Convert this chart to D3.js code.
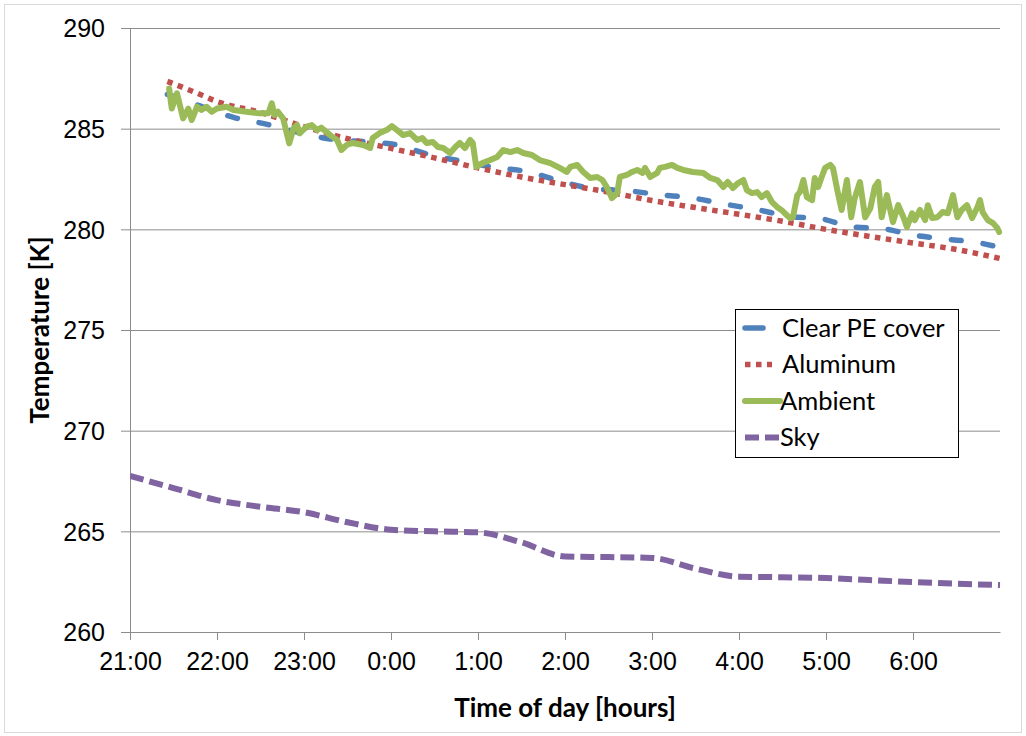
<!DOCTYPE html>
<html>
<head>
<meta charset="utf-8">
<script src="https://cdn.jsdelivr.net/npm/d3@7"></script>
<style>
  body { margin: 0; background: #fff; }
  svg { font-family: Lato, "Open Sans", sans-serif; }
  .tickText { font-size: 25px; fill: #000; }
  .titleText { font-size: 26px; font-weight: bold; fill: #000; }
  .legendText { font-size: 25.5px; fill: #000; }
</style>
</head>
<body>
<div id="chart"></div>
<script>
// time is in hours since midnight of the first day (25 = 1:00 next morning)
const seriesNames = ["Clear PE cover", "Aluminum", "Ambient", "Sky"];
const xTicks = [21, 22, 23, 24, 25, 26, 27, 28, 29, 30];
const yTicks = [260, 265, 270, 275, 280, 285, 290];

const clearPE = [
  [21.43, 286.7], [21.57, 286.5], [22.2, 285.55], [22.59, 285.2], [22.9, 284.85],
  [23.28, 284.5], [23.7, 284.35], [24.06, 284.2], [24.45, 283.7], [24.79, 283.4],
  [25.2, 283.07], [25.56, 282.87], [25.94, 282.4], [26.32, 282.02], [26.71, 281.92],
  [27.09, 281.72], [27.47, 281.55], [27.84, 281.25], [28.24, 280.95], [28.56, 280.65],
  [28.95, 280.52], [29.3, 280.12], [29.67, 280.02], [30.02, 279.7], [30.37, 279.52],
  [30.77, 279.32], [31.0, 279.1]
];

const aluminum = [
  [21.43, 287.35], [21.75, 286.8], [22.0, 286.35], [22.5, 285.8], [23.0, 285.1],
  [23.5, 284.5], [24.0, 284.02], [24.5, 283.55], [25.0, 283.05], [25.5, 282.6],
  [26.0, 282.22], [26.5, 281.85], [27.0, 281.43], [27.5, 281.08], [28.0, 280.75],
  [28.5, 280.4], [29.0, 280.0], [29.5, 279.65], [30.0, 279.32], [30.5, 279.0],
  [31.0, 278.55]
];

const ambient = [
  [21.45, 287.0], [21.48, 286.0], [21.54, 286.76], [21.61, 285.51], [21.67, 286.0],
  [21.71, 285.43], [21.77, 286.09], [21.82, 285.93], [21.88, 286.09], [21.94, 285.84],
  [22.0, 286.0], [22.11, 286.09], [22.19, 285.93], [22.34, 285.84], [22.49, 285.76],
  [22.59, 285.76], [22.63, 286.26], [22.66, 285.68], [22.7, 285.84], [22.76, 285.51],
  [22.83, 284.27], [22.88, 285.02], [22.92, 285.18], [22.95, 284.77], [23.03, 285.1],
  [23.09, 285.18], [23.15, 284.93], [23.2, 285.05], [23.3, 284.68], [23.38, 284.44],
  [23.43, 283.94], [23.49, 284.19], [23.56, 284.29], [23.68, 284.19], [23.76, 284.04],
  [23.79, 284.54], [23.87, 284.78], [23.95, 284.93], [24.01, 285.13], [24.07, 284.93],
  [24.14, 284.68], [24.22, 284.78], [24.3, 284.44], [24.36, 284.54], [24.41, 284.29],
  [24.48, 284.34], [24.54, 284.09], [24.6, 284.04], [24.68, 283.79], [24.74, 284.09],
  [24.79, 284.29], [24.85, 284.04], [24.91, 284.44], [24.94, 284.29], [24.98, 283.1],
  [25.05, 283.29], [25.14, 283.44], [25.22, 283.59], [25.29, 283.94], [25.37, 283.84],
  [25.45, 283.94], [25.52, 283.79], [25.62, 283.69], [25.71, 283.44], [25.83, 283.29],
  [25.94, 283.05], [26.02, 282.85], [26.06, 283.1], [26.14, 283.2], [26.21, 282.85],
  [26.29, 282.55], [26.37, 282.6], [26.43, 282.45], [26.48, 282.1], [26.54, 281.55],
  [26.6, 281.8], [26.63, 282.6], [26.71, 282.7], [26.77, 282.85], [26.83, 282.95],
  [26.89, 282.8], [26.92, 283.05], [26.98, 282.6], [27.06, 282.8], [27.09, 283.05],
  [27.15, 283.1], [27.23, 283.2], [27.29, 283.05], [27.36, 282.95], [27.47, 282.85],
  [27.59, 282.8], [27.67, 282.55], [27.75, 282.45], [27.82, 282.1], [27.87, 282.35],
  [27.93, 282.05], [27.99, 282.3], [28.05, 282.45], [28.09, 281.95], [28.15, 281.8],
  [28.21, 281.85], [28.26, 281.6], [28.32, 281.8], [28.38, 281.35], [28.44, 281.1],
  [28.49, 280.95], [28.55, 280.7], [28.59, 280.55], [28.62, 280.6], [28.67, 281.7],
  [28.7, 281.85], [28.74, 282.45], [28.78, 281.6], [28.84, 281.45], [28.87, 282.55],
  [28.91, 282.1], [28.95, 282.6], [28.99, 283.05], [29.05, 283.2], [29.08, 283.05],
  [29.13, 281.95], [29.18, 280.96], [29.24, 282.45], [29.29, 280.6], [29.33, 281.55],
  [29.39, 282.35], [29.45, 280.6], [29.51, 281.05], [29.56, 282.1], [29.6, 282.35],
  [29.64, 280.6], [29.7, 281.7], [29.77, 280.36], [29.83, 281.2], [29.89, 280.6],
  [29.93, 280.11], [29.99, 280.8], [30.02, 280.46], [30.08, 280.96], [30.14, 280.46],
  [30.17, 281.2], [30.22, 280.56], [30.28, 280.6], [30.34, 280.86], [30.4, 280.8],
  [30.46, 281.7], [30.51, 280.6], [30.56, 280.96], [30.62, 281.2], [30.68, 280.56],
  [30.74, 281.1], [30.77, 281.45], [30.8, 280.86], [30.86, 280.46], [30.92, 280.31],
  [30.97, 280.06], [30.99, 279.87]
];

const sky = [
  [21.0, 267.75], [21.5, 267.15], [22.0, 266.55], [22.5, 266.22], [23.0, 265.95],
  [23.5, 265.45], [24.0, 265.08], [24.5, 265.0], [25.0, 264.95], [25.5, 264.45],
  [26.0, 263.75], [26.5, 263.72], [27.0, 263.68], [27.5, 263.15], [28.0, 262.75],
  [28.5, 262.72], [29.0, 262.68], [29.5, 262.58], [30.0, 262.48], [30.5, 262.4],
  [31.0, 262.33]
];

const width = 1026, height = 736;
const margin = { left: 130, right: 26, top: 28, bottom: 104 };

const svg = d3.select("#chart").append("svg")
  .attr("width", width)
  .attr("height", height);

// chart frame
svg.append("rect")
  .attr("x", 4.5).attr("y", 4.5)
  .attr("width", width - 9).attr("height", height - 8)
  .attr("fill", "none")
  .attr("stroke", "#d9d9d9");

const x = d3.scaleLinear().domain([21, 31]).range([margin.left, width - margin.right]);
const y = d3.scaleLinear().domain([260, 290]).range([height - margin.bottom, margin.top]);

// gridlines
svg.append("g")
  .attr("transform", "translate(" + (margin.left - 9) + ",0)")
  .call(d3.axisRight(y).tickValues(yTicks).tickSize(x(31) - margin.left + 9).tickFormat(""))
  .call(g => g.select(".domain").remove())
  .call(g => g.selectAll("line").attr("stroke", "#8c8c8c"));

// y axis
svg.append("g")
  .attr("transform", "translate(" + margin.left + ",0)")
  .call(d3.axisLeft(y).tickValues(yTicks).tickSize(0).tickPadding(25))
  .call(g => g.select(".domain").attr("stroke", "#8c8c8c"))
  .call(g => g.selectAll("text").attr("class", "tickText").attr("dy", "0.35em"));

// x axis
svg.append("g")
  .attr("transform", "translate(0," + y(260) + ")")
  .call(d3.axisBottom(x).tickValues(xTicks).tickSize(8).tickSizeOuter(0).tickPadding(12)
    .tickFormat(d => (d % 24) + ":00"))
  .call(g => g.select(".domain").attr("stroke", "#8c8c8c"))
  .call(g => g.selectAll("line").attr("stroke", "#8c8c8c"))
  .call(g => g.selectAll("text").attr("class", "tickText"));

// axis titles
svg.append("text")
  .attr("class", "titleText")
  .attr("text-anchor", "middle")
  .attr("x", (x(21) + x(31)) / 2)
  .attr("y", 717)
  .text("Time of day [hours]");

svg.append("text")
  .attr("class", "titleText")
  .attr("text-anchor", "middle")
  .attr("transform", "translate(49," + ((y(260) + y(290)) / 2) + ") rotate(-90)")
  .text("Temperature [K]");

svg.append("clipPath").attr("id", "plotClip")
  .append("rect")
  .attr("x", x(21)).attr("y", y(290) - 10)
  .attr("width", x(31) - x(21) + 4).attr("height", y(260) - y(290) + 10);

const line = d3.line().x(d => x(d[0])).y(d => y(d[1]));
const smooth = d3.line().x(d => x(d[0])).y(d => y(d[1])).curve(d3.curveMonotoneX);

const styles = [
  { data: clearPE, color: "#4f81bd", width: 5.5, dash: "10,22", cap: "round", gen: smooth },
  { data: aluminum, color: "#c0504d", width: 5.5, dash: "5.5,5.5", cap: "butt", gen: smooth },
  { data: ambient, color: "#9bbb59", width: 6, dash: null, cap: "round", gen: line },
  { data: sky, color: "#8064a2", width: 6, dash: "14,6", cap: "butt", gen: smooth }
];

const plot = svg.append("g").attr("clip-path", "url(#plotClip)");
styles.forEach(s => {
  plot.append("path")
    .datum(s.data)
    .attr("fill", "none")
    .attr("stroke", s.color)
    .attr("stroke-width", s.width)
    .attr("stroke-dasharray", s.dash)
    .attr("stroke-linecap", s.cap)
    .attr("stroke-linejoin", "round")
    .attr("d", s.gen);
});

// legend
const legend = svg.append("g").attr("transform", "translate(735,309)");
legend.append("rect")
  .attr("x", 0.5).attr("y", 0.5)
  .attr("width", 223).attr("height", 148)
  .attr("fill", "#fff")
  .attr("stroke", "#000")
  .attr("stroke-width", 1);

const legendEnds = [28, 37, 45, 45];
seriesNames.forEach((name, i) => {
  const s = styles[i];
  const ly = 19 + i * 36.5;
  legend.append("line")
    .attr("x1", 10).attr("x2", legendEnds[i])
    .attr("y1", ly).attr("y2", ly)
    .attr("stroke", s.color)
    .attr("stroke-width", s.width)
    .attr("stroke-dasharray", i === 0 ? null : s.dash)
    .attr("stroke-linecap", s.cap);
  legend.append("text")
    .attr("class", "legendText")
    .attr("x", i < 2 ? 47 : 45)
    .attr("y", ly)
    .attr("dy", "0.35em")
    .text(name);
});
</script>
</body>
</html>
